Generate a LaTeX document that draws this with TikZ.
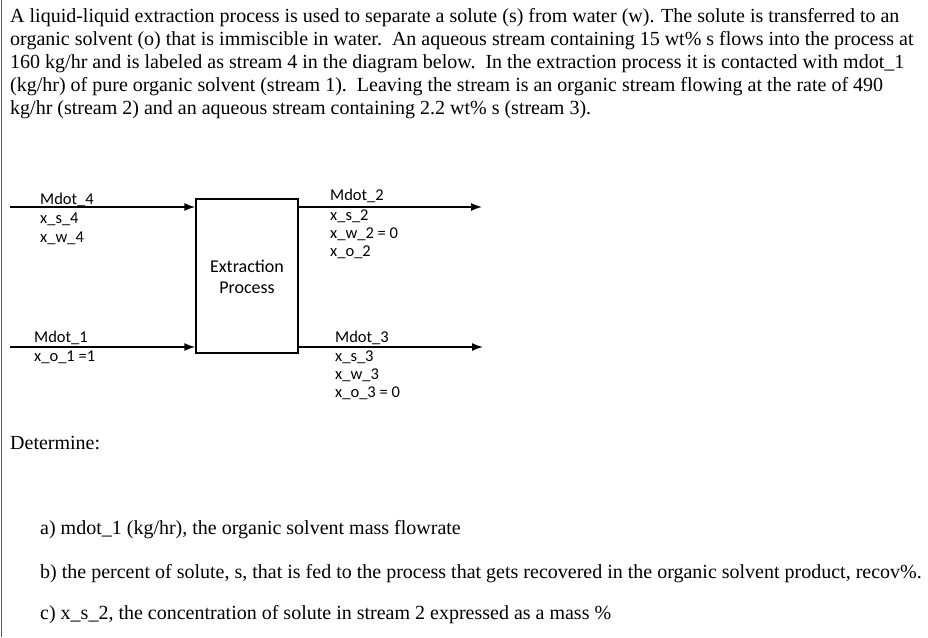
\documentclass[tikz,border=0pt]{standalone}
\usepackage{fontspec}
\setmainfont{Liberation Serif}
\newfontfamily\calib{Carlito}
\usetikzlibrary{arrows.meta}
\begin{document}
\begin{tikzpicture}[x=1pt,y=-1pt,
  body/.style={anchor=west,inner sep=0pt,font=\fontsize{20}{22}\selectfont},
  lbl/.style={anchor=west,inner sep=0pt,font=\calib\fontsize{16.5}{18}\selectfont},
  flow/.style={draw,line width=1.5pt,-{Latex[length=11pt,width=8pt]}}]
\useasboundingbox (0,0) rectangle (928,637);
\fill[white] (0,0) rectangle (928,637);
\draw[gray!70!black] (1.5,0) -- (1.5,637);
\node[body] (t1) at (10,18) {A liquid-liquid extraction process is used to separate a solute (s) from water (w). The solute is transferred to an};
\node[body] (t2) at (10,41) {organic solvent (o) that is immiscible in water.\ \ An aqueous stream containing 15 wt\% s flows into the process at};
\node[body] (t3) at (10,64) {160 kg/hr and is labeled as stream 4 in the diagram below.\ \ In the extraction process it is contacted with mdot\_1};
\node[body] (t4) at (10,87) {(kg/hr) of pure organic solvent (stream 1).\ \ Leaving the stream is an organic stream flowing at the rate of 490};
\node[body] (t5) at (10,110) {kg/hr (stream 2) and an aqueous stream containing 2.2 wt\% s (stream 3).};
\node[draw,line width=1.5pt,minimum width=102,minimum height=154,inner sep=0pt] (box) at (247,276) {};
\node[lbl,anchor=center,font=\calib\fontsize{18}{20}\selectfont] (ex) at (247,266) {Extraction};
\node[lbl,anchor=center,font=\calib\fontsize{18}{20}\selectfont] (pr) at (247,288) {Process};
\coordinate (i4) at (10,207);
\coordinate (i1) at (10,347);
\coordinate (o2) at (482,207);
\coordinate (o3) at (483,347);
\draw[flow] (i4) -- (i4 -| box.west);
\draw[flow] (i1) -- (i1 -| box.west);
\draw[flow] (o2 -| box.east) -- (o2);
\draw[flow] (o3 -| box.east) -- (o3);
\node[lbl] (m4) at (40,200) {Mdot\_4};
\node[lbl] (xs4) at (40,219) {x\_s\_4};
\node[lbl] (xw4) at (40,238) {x\_w\_4};
\node[lbl] (m2) at (330,196) {Mdot\_2};
\node[lbl] (xs2) at (330,216) {x\_s\_2};
\node[lbl] (xw2) at (330,234) {x\_w\_2 = 0};
\node[lbl] (xo2) at (330,252) {x\_o\_2};
\node[lbl] (m1) at (34,338) {Mdot\_1};
\node[lbl] (xo1) at (34,357) {x\_o\_1 =1};
\node[lbl] (m3) at (335,338) {Mdot\_3};
\node[lbl] (xs3) at (335,357) {x\_s\_3};
\node[lbl] (xw3) at (335,375) {x\_w\_3};
\node[lbl] (xo3) at (335,393) {x\_o\_3 = 0};
\node[body] (det) at (10,443) {Determine:};
\node[body] (qa) at (40,530) {a) mdot\_1 (kg/hr), the organic solvent mass flowrate};
\node[body] (qb) at (40,574) {b) the percent of solute, s, that is fed to the process that gets recovered in the organic solvent product, recov\%.};
\node[body] (qc) at (40,615) {c) x\_s\_2, the concentration of solute in stream 2 expressed as a mass \%};
\end{tikzpicture}
\end{document}
